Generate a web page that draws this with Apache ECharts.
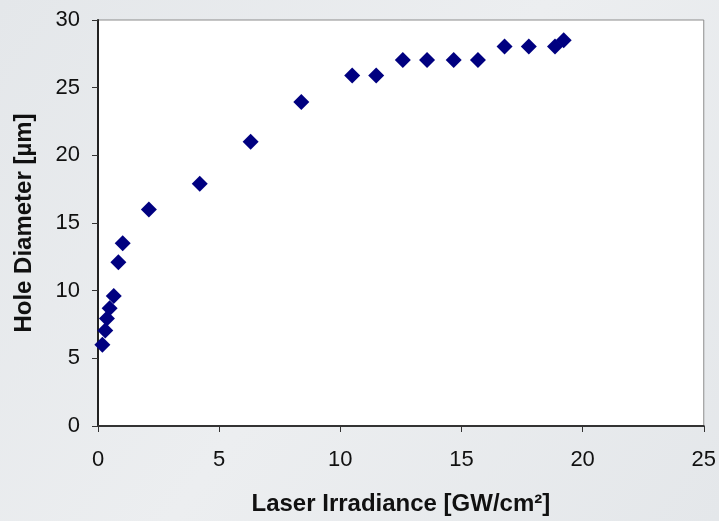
<!DOCTYPE html>
<html>
<head>
<meta charset="utf-8">
<script src="https://cdn.jsdelivr.net/npm/echarts@6/dist/echarts.min.js"></script>
<style>
  html, body { margin: 0; padding: 0; background: #e7eaed; }
  #chart { width: 719px; height: 521px; }
</style>
</head>
<body>
<div id="chart"></div>
<script>
// laser irradiance [GW/cm2]
var irradiance = [0.18, 0.30, 0.37, 0.48, 0.65, 0.84, 1.02, 2.1, 4.2, 6.3, 8.39, 10.49, 11.48, 12.58, 13.58, 14.68, 15.68, 16.78, 17.78, 18.86, 19.22];
// hole diameter [um]
var diameter = [6.0, 7.05, 7.95, 8.7, 9.6, 12.1, 13.5, 16.0, 17.9, 21.0, 23.95, 25.9, 25.9, 27.05, 27.05, 27.05, 27.05, 28.05, 28.05, 28.05, 28.5];

var xTicks = [0, 5, 10, 15, 20, 25];
var yTicks = [0, 5, 10, 15, 20, 25, 30];

var points = irradiance.map(function (x, i) { return [x, diameter[i]]; });

var myChart = echarts.init(document.getElementById('chart'));

var option = {
    backgroundColor: new echarts.graphic.LinearGradient(0, 0, 1, 1, [
        { offset: 0, color: '#e4e7ea' },
        { offset: 0.5, color: '#eceef0' },
        { offset: 1, color: '#e4e7ea' }
    ]),
    animation: false,
    textStyle: { fontFamily: 'Liberation Sans, Arial, sans-serif' },
    grid: {
        left: 98, right: 14, top: 20, bottom: 94,
        show: true,
        backgroundColor: '#ffffff',
        borderColor: '#8c8c8c',
        borderWidth: 1
    },
    xAxis: {
        type: 'value',
        min: xTicks[0], max: xTicks[xTicks.length - 1], interval: 5,
        name: 'Laser Irradiance [GW/cm²]',
        nameLocation: 'middle',
        nameGap: 66,
        nameTextStyle: { fontSize: 24, fontWeight: 'bold', color: '#111', letterSpacing: 0.6 },
        axisLine: { show: true, lineStyle: { color: '#333', width: 2 } },
        axisTick: { show: true, inside: false, length: 6, lineStyle: { color: '#333' } },
        axisLabel: { fontSize: 22, color: '#111', margin: 23 },
        splitLine: { show: false }
    },
    yAxis: {
        type: 'value',
        min: yTicks[0], max: yTicks[yTicks.length - 1], interval: 5,
        name: 'Hole Diameter [µm]',
        nameLocation: 'middle',
        nameGap: 62,
        nameTextStyle: { fontSize: 24, fontWeight: 'bold', color: '#111', letterSpacing: 0.5 },
        axisLine: { show: true, lineStyle: { color: '#222', width: 2 } },
        axisTick: { show: true, inside: false, length: 6, lineStyle: { color: '#333' } },
        axisLabel: { fontSize: 22, color: '#111', margin: 18 },
        splitLine: { show: false }
    },
    series: [{
        type: 'scatter',
        data: points,
        symbol: 'diamond',
        symbolSize: 16,
        itemStyle: { color: '#000080', opacity: 1 }
    }]
};

myChart.setOption(option);
</script>
</body>
</html>
